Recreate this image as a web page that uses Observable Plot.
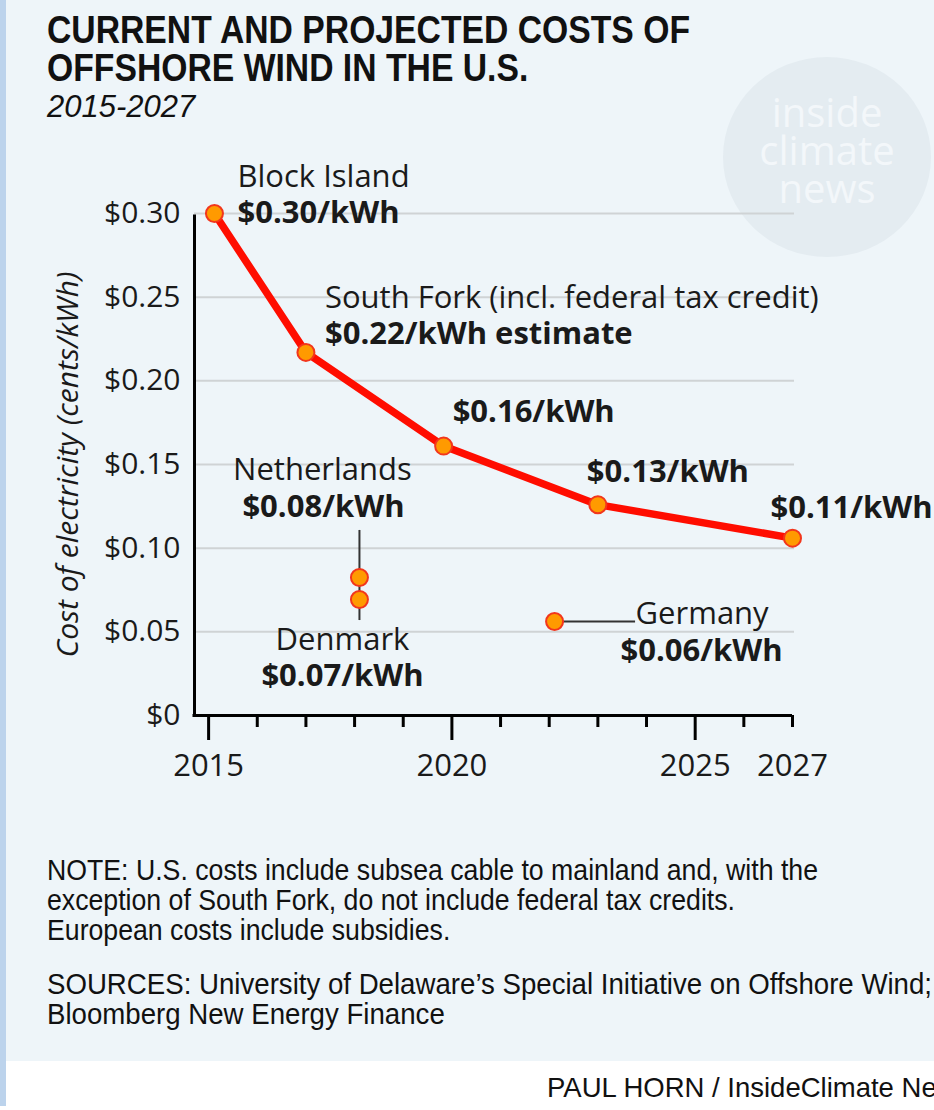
<!DOCTYPE html>
<html>
<head>
<meta charset="utf-8">
<script src="https://cdn.jsdelivr.net/npm/d3@7"></script>
<script src="https://cdn.jsdelivr.net/npm/@observablehq/plot@0.6"></script>
<style>
html, body { margin: 0; padding: 0; }
body { width: 934px; height: 1110px; overflow: hidden; position: relative; background: #ffffff; }
#panel { position: absolute; left: 0; top: 0; width: 934px; height: 1061px; background: #eef5f9; }
#stripe { position: absolute; left: 0; top: 0; width: 6px; height: 1106px; background: #bcd3ec; }
.narrow { font-family: "Liberation Sans Narrow", "Liberation Sans", Arial, sans-serif; color: #111; position: absolute; white-space: nowrap; transform-origin: left top; }
#title { left: 47px; top: 11px; font-weight: bold; font-size: 38px; line-height: 38px; }
#subtitle { left: 47px; top: 90px; font-style: italic; font-size: 31px; line-height: 34px; }
#note { left: 47px; top: 855px; font-size: 29px; line-height: 30px; }
#sources { left: 47px; top: 969px; font-size: 29px; line-height: 30px; }
#credit { left: 547px; top: 1073px; font-size: 27.5px; line-height: 30px; }
#wm { position: absolute; left: 723px; top: 57px; width: 208px; height: 200px; border-radius: 50%; background: #e4ecf1;
      font-family: "Open Sans", sans-serif; color: #f3f7fa; text-align: center; font-size: 40px; line-height: 38px; padding-top: 36px; box-sizing: border-box; }
#chart { position: absolute; left: 0; top: 140px; }
</style>
</head>
<body>
<div id="panel"></div>
<div id="stripe"></div>
<div id="wm">inside<br>climate<br>news</div>
<div id="title" class="narrow" data-fit="643">CURRENT AND PROJECTED COSTS OF<br>OFFSHORE WIND IN THE U.S.</div>
<div id="subtitle" class="narrow">2015-2027</div>
<div id="chart"></div>
<div id="note" class="narrow" data-fit="771">NOTE: U.S. costs include subsea cable to mainland and, with the<br>exception of South Fork, do not include federal tax credits.<br>European costs include subsidies.</div>
<div id="sources" class="narrow" data-fit="885">SOURCES: University of Delaware’s Special Initiative on Offshore Wind;<br>Bloomberg New Energy Finance</div>
<div id="credit" class="narrow">PAUL HORN / InsideClimate News</div>
<script>
// ---- data ----
const usProjects = ["Block Island", "South Fork (incl. federal tax credit)", "", "", ""];
const usYears = [2015.12, 2017.0, 2019.83, 2023.0, 2027.0];
const usCosts = [0.300, 0.217, 0.161, 0.126, 0.106];
const usValueLabels = ["$0.30/kWh", "$0.22/kWh estimate", "$0.16/kWh", "$0.13/kWh", "$0.11/kWh"];

const euCountries = ["Netherlands", "Denmark", "Germany"];
const euYears = [2018.1, 2018.1, 2022.11];
const euCosts = [0.0825, 0.0693, 0.0562];
const euValueLabels = ["$0.08/kWh", "$0.07/kWh", "$0.06/kWh"];

const yTicks = [0, 0.05, 0.10, 0.15, 0.20, 0.25, 0.30];
const yTickLabels = ["$0", "$0.05", "$0.10", "$0.15", "$0.20", "$0.25", "$0.30"];
const xLabelYears = [2015, 2020, 2025, 2027];
const xMajorYears = [2015, 2020, 2025];
const xMinorYears = [2016, 2017, 2018, 2019, 2021, 2022, 2023, 2024, 2026, 2027];
const yAxisTitle = "Cost of electricity (cents/kWh)";

// ---- tables ----
const us = usYears.map((year, i) => ({year, cost: usCosts[i], name: usProjects[i], label: usValueLabels[i]}));
const eu = euYears.map((year, i) => ({year, cost: euCosts[i], name: euCountries[i], label: euValueLabels[i]}));
const xDomain = [2014.71, 2027];
const yDomain = [0, 0.30];

const ink = "#1a1a1a";
const reg = {fill: ink, fontSize: 31, fontWeight: "normal"};
const bold = {fill: ink, fontSize: 31, fontWeight: "bold"};

const chart = Plot.plot({
  width: 934,
  height: 680,
  marginTop: 73,
  marginBottom: 105,
  marginLeft: 194,
  marginRight: 142,
  x: {domain: xDomain, axis: null},
  y: {domain: yDomain, axis: null},
  style: {fontFamily: "'Open Sans', sans-serif", background: "transparent", overflow: "visible"},
  marks: [
    // gridlines
    Plot.ruleY(yTicks.filter(d => d > 0), {y: d => d, stroke: "#cfd3d5", strokeWidth: 2, insetRight: -2}),
    // axes
    Plot.ruleX([xDomain[0]], {x: d => d, y1: yDomain[0], y2: yDomain[1], stroke: "#000", strokeWidth: 3, insetBottom: -1.5}),
    Plot.ruleY([0], {y: d => d, stroke: "#000", strokeWidth: 3, insetLeft: -1.5}),
    Plot.ruleX(xMajorYears, {x: d => d, y1: 0, y2: 0, insetBottom: -25, stroke: "#000", strokeWidth: 3}),
    Plot.ruleX(xMinorYears, {x: d => d, y1: 0, y2: 0, insetBottom: -12, stroke: "#000", strokeWidth: 3}),
    Plot.text(xLabelYears, {x: d => d, y: 0, dy: 51, text: d => String(d), fill: ink, fontSize: 31}),
    Plot.text(yTicks, {x: xDomain[0], y: d => d, dx: -14, text: (d, i) => yTickLabels[i], textAnchor: "end", fill: ink, fontSize: 30}),
    Plot.text([yAxisTitle], {frameAnchor: "left", text: d => d, rotate: -90, dx: -126, textAnchor: "middle", fill: ink, fontSize: 30, fontStyle: "italic"}),
    // connectors
    Plot.ruleX([eu[0]], {x: "year", y1: () => eu[0].cost, y2: () => eu[1].cost, insetTop: -47, insetBottom: -21, stroke: "#333", strokeWidth: 2}),
    Plot.ruleY([eu[2]], {y: "cost", x1: "year", x2: "year", insetRight: -81, stroke: "#333", strokeWidth: 2}),
    // US line
    Plot.line(us, {x: "year", y: "cost", stroke: "#ff0d00", strokeWidth: 7.5, strokeLinejoin: "round"}),
    // dots
    Plot.dot(us, {x: "year", y: "cost", r: 8.5, fill: "#ff9a00", stroke: "#f2361c", strokeWidth: 2}),
    Plot.dot(eu, {x: "year", y: "cost", r: 8.5, fill: "#ff9a00", stroke: "#f2361c", strokeWidth: 2}),
    // US annotations
    Plot.text([us[0]], {x: "year", y: "cost", text: "name", dx: 23, dy: -36, textAnchor: "start", ...reg}),
    Plot.text([us[0]], {x: "year", y: "cost", text: "label", dx: 23, dy: 0, textAnchor: "start", ...bold}),
    Plot.text([us[1]], {x: "year", y: "cost", text: "name", dx: 19, dy: -54, textAnchor: "start", ...reg}),
    Plot.text([us[1]], {x: "year", y: "cost", text: "label", dx: 19, dy: -18, textAnchor: "start", ...bold}),
    Plot.text([us[2]], {x: "year", y: "cost", text: "label", dx: 9, dy: -34, textAnchor: "start", ...bold}),
    Plot.text([us[3]], {x: "year", y: "cost", text: "label", dx: -11, dy: -33, textAnchor: "start", ...bold}),
    Plot.text([us[4]], {x: "year", y: "cost", text: "label", dx: -22, dy: -30, textAnchor: "start", ...bold}),
    // European annotations
    Plot.text([eu[0]], {x: "year", y: "cost", text: "name", dx: -37, dy: -107, ...reg}),
    Plot.text([eu[0]], {x: "year", y: "cost", text: "label", dx: -36, dy: -70, ...bold}),
    Plot.text([eu[1]], {x: "year", y: "cost", text: "name", dx: -17, dy: 41, ...reg}),
    Plot.text([eu[1]], {x: "year", y: "cost", text: "label", dx: -17, dy: 77, ...bold}),
    Plot.text([eu[2]], {x: "year", y: "cost", text: "name", dx: 81, dy: -7, textAnchor: "start", ...reg}),
    Plot.text([eu[2]], {x: "year", y: "cost", text: "label", dx: 66, dy: 30, textAnchor: "start", ...bold})
  ]
});
document.getElementById("chart").appendChild(chart);

// fit condensed text blocks to the reference widths
document.querySelectorAll("[data-fit]").forEach(el => {
  const target = +el.dataset.fit;
  const w = el.getBoundingClientRect().width;
  if (w > 0) el.style.transform = `scaleX(${target / w})`;
});
</script>
</body>
</html>
